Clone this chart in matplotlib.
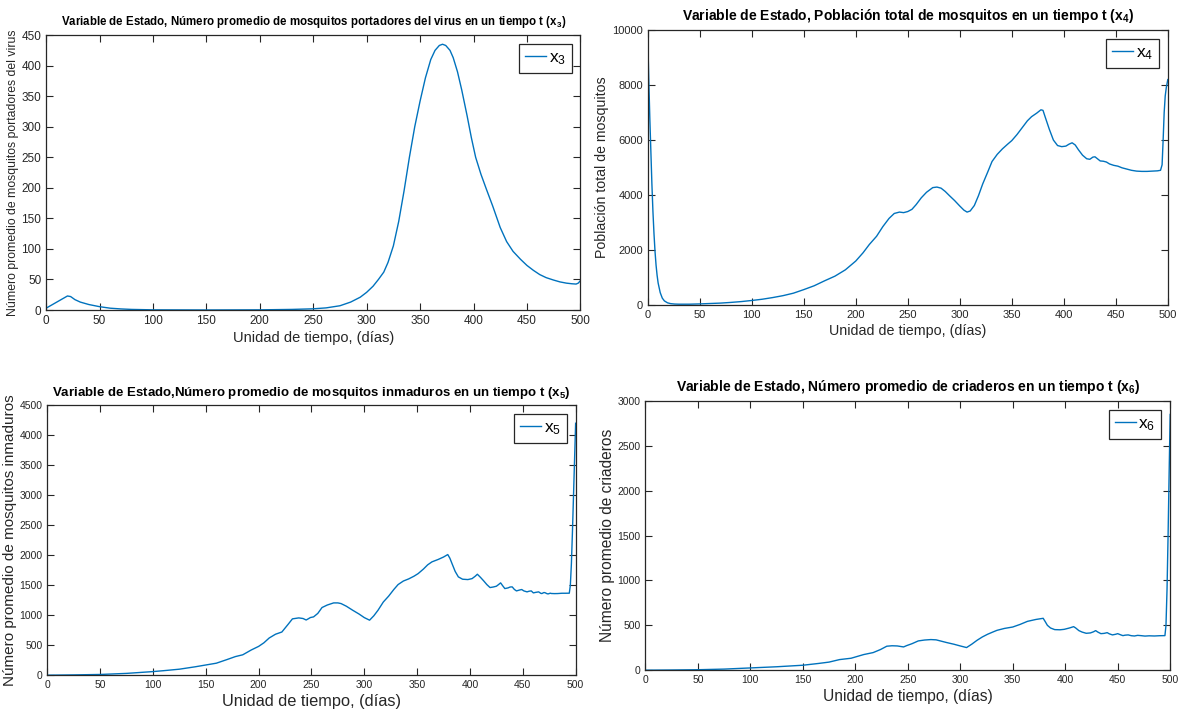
import numpy as np
import matplotlib
matplotlib.use('Agg')
import matplotlib.pyplot as plt

plt.rcParams['font.family'] = ['Liberation Sans', 'DejaVu Sans']
plt.rcParams['mathtext.default'] = 'regular'

# valores (t en dias)
t3 = [0, 3, 7, 12, 17, 20, 23, 27, 32, 40, 50, 60, 70, 80, 100, 150, 200, 230, 250, 262, 275, 285, 294,
      300, 306, 311, 316, 320, 325, 330, 335, 340, 345, 350, 355, 360, 364, 368, 371, 374, 378, 381, 385,
      389, 394, 398, 402, 407, 412, 418, 425, 431, 437, 444, 450, 456, 462, 468, 475, 481, 487, 492, 496,
      498, 500]
x3 = [3, 6, 10, 15, 20, 23, 22, 17, 13, 9, 5.5, 3, 1.8, 1, 0.3, 0.1, 0.3, 1, 2, 3.5, 7, 13, 21,
      29, 39, 50, 62, 78, 105, 145, 195, 250, 300, 342, 380, 410, 425, 433, 435, 433, 425, 413, 390,
      360, 318, 282, 250, 222, 198, 170, 135, 112, 96, 83, 73, 65, 58, 53, 49, 46, 44, 43, 42.5,
      44, 48]

t4 = [0, 0.5, 1, 1.5, 2, 3, 4, 5, 6, 7, 8, 9, 10, 12, 14, 16, 19, 22, 26, 30, 40, 50, 60, 70, 80, 90,
      100, 110, 120, 130, 140, 150, 160, 170, 180, 190, 200, 207, 213, 220, 226, 232, 237, 242, 246, 250,
      254, 258, 263, 268, 274, 278, 282, 286, 290, 295, 300, 304, 307, 310, 314, 318, 322, 327, 331, 336,
      341, 346, 350, 355, 360, 365, 369, 374, 378, 380, 382, 386, 390, 394, 398, 402, 405, 408, 411, 414,
      418, 422, 425, 428, 430, 432, 435, 438, 441, 444, 448, 452, 456, 460, 465, 470, 475, 480, 485, 490,
      493, 494.5, 495.5, 496.5, 497.5, 498.5, 500]
x4 = [10000, 9000, 8200, 7500, 6800, 5600, 4400, 3400, 2600, 1950, 1450, 1080, 800, 450, 250, 150, 80, 50,
      35, 30, 30, 40, 55, 70, 95, 125, 165, 210, 270, 340, 430, 560, 700, 880, 1050, 1280, 1600, 1900,
      2200, 2500, 2850, 3150, 3330, 3380, 3360, 3400, 3480, 3650, 3900, 4100, 4270, 4290, 4250, 4130,
      3980, 3800, 3600, 3450, 3380, 3420, 3620, 3980, 4400, 4850, 5220, 5480, 5680, 5850, 5980, 6200,
      6450, 6700, 6850, 6980, 7100, 7080, 6850, 6400, 6000, 5800, 5760, 5780, 5850, 5900, 5820, 5650,
      5450, 5320, 5300, 5380, 5390, 5330, 5240, 5230, 5200, 5130, 5080, 5050, 4990, 4950, 4900, 4870,
      4860, 4860, 4870, 4880, 4900, 5100, 6000, 7000, 7600, 7900, 8200]

t5 = [0, 25, 50, 75, 100, 110, 125, 140, 150, 160, 170, 178, 185, 193, 200, 205, 210, 216, 222, 228, 232,
      238, 242, 245, 247, 249, 252, 256, 260, 265, 271, 275, 278, 283, 289, 295, 300, 305, 309, 313, 318,
      323, 328, 332, 337, 342, 347, 351, 356, 360, 364, 370, 375, 379, 381, 383, 386, 389, 393, 398, 402,
      405, 407, 410, 413, 416, 419, 422, 425, 427, 429, 431, 433, 436, 438, 440, 442, 444, 447, 449, 451,
      454, 456, 458, 460, 462, 465, 467, 468, 470, 471, 473, 474, 476, 477, 480, 483, 487, 490, 494, 495,
      496, 497, 498, 499, 500]
x5 = [0, 5, 12, 30, 60, 75, 100, 140, 170, 200, 260, 310, 340, 420, 480, 540, 620, 683, 720, 850, 939,
      955, 945, 920, 940, 961, 972, 1030, 1128, 1170, 1205, 1205, 1194, 1150, 1083, 1020, 960, 917, 990,
      1083, 1220, 1317, 1430, 1511, 1570, 1605, 1650, 1694, 1770, 1840, 1889, 1930, 1970, 2011, 1950,
      1861, 1730, 1639, 1600, 1594, 1610, 1650, 1683, 1630, 1572, 1510, 1461, 1470, 1483, 1510, 1539,
      1490, 1444, 1455, 1470, 1472, 1430, 1405, 1420, 1428, 1405, 1389, 1400, 1405, 1372, 1380, 1389,
      1365, 1361, 1378, 1375, 1358, 1355, 1367, 1362, 1360, 1361, 1366, 1366, 1367, 1500, 1861, 2400,
      3000, 3600, 4200]

t6 = [0, 25, 50, 75, 100, 125, 150, 165, 175, 185, 196, 208, 217, 224, 230, 235, 240, 246, 249, 254, 260,
      266, 272, 277, 281, 287, 294, 300, 306, 311, 316, 321, 326, 331, 335, 342, 350, 357, 364, 372, 379,
      381, 383, 386, 390, 395, 399, 404, 408, 410, 413, 416, 420, 424, 427, 429, 431, 434, 437, 440, 442,
      445, 448, 450, 453, 455, 457, 460, 463, 466, 469, 472, 476, 480, 485, 490, 495, 496, 497, 498, 499,
      500]
x6 = [0, 2, 5, 12, 25, 38, 55, 75, 90, 118, 133, 174, 196, 230, 267, 272, 270, 259, 274, 295, 326,
      336, 341, 338, 326, 308, 289, 270, 252, 290, 333, 370, 400, 425, 444, 465, 481, 510, 544, 565, 578,
      540, 500, 470, 452, 450, 455, 470, 485, 470, 441, 425, 411, 415, 428, 441, 425, 407, 410, 418, 405,
      393, 400, 407, 393, 385, 390, 393, 384, 381, 388, 385, 380, 383, 381, 384, 385, 500, 900, 1500, 2200,
      2850]

xlabel = 'Unidad de tiempo, (días)'
azul = '#0072BD'
gris = '#262626'

fig = plt.figure(figsize=(11.82, 7.16), dpi=100)

# posicion, datos, ymax, paso, leyenda, titulo, ylabel, tamanos (titulo, ylabel, xlabel, ticks)
paneles = [
    ([0.039, 0.567, 0.452, 0.384], t3, x3, 450, 50, 'x$_3$',
     'Variable de Estado, Número promedio de mosquitos portadores del virus en un tiempo t (x$_3$)',
     'Número promedio de mosquitos portadores del virus', 8.3, 8.8, 10.5, 8.5),
    ([0.548, 0.574, 0.440, 0.384], t4, x4, 10000, 2000, 'x$_4$',
     'Variable de Estado, Población total de mosquitos en un tiempo t (x$_4$)',
     'Población total de mosquitos', 10, 10.2, 10.3, 8),
    ([0.040, 0.057, 0.447, 0.377], t5, x5, 4500, 500, 'x$_5$',
     'Variable de Estado,Número promedio de mosquitos inmaduros en un tiempo t (x$_5$)',
     'Número promedio de mosquitos inmaduros', 9.5, 11, 11.8, 7.5),
    ([0.546, 0.064, 0.444, 0.376], t6, x6, 3000, 500, 'x$_6$',
     'Variable de Estado, Número promedio de criaderos en un tiempo t (x$_6$)',
     'Número promedio de criaderos', 10, 11.2, 11.2, 7.5),
]

for pos, t, x, ymax, ystep, lab, titulo, ylab, fs_t, fs_y, fs_x, fs_tick in paneles:
    ax = fig.add_axes(pos)
    ax.plot(t, x, color=azul, linewidth=1.0, label=lab)
    ax.set_xlim(0, 500)
    ax.set_ylim(0, ymax)
    ax.set_xticks(np.arange(0, 501, 50))
    ax.set_yticks(np.arange(0, ymax + 1, ystep))
    ax.tick_params(direction='in', top=True, right=True, length=5, width=0.8,
                   labelsize=fs_tick, colors=gris)
    for s in ax.spines.values():
        s.set_color(gris)
        s.set_linewidth(0.9)
    ax.set_title(titulo, fontsize=fs_t, fontweight='bold', pad=7)
    ax.set_ylabel(ylab, fontsize=fs_y, color=gris, labelpad=2)
    ax.set_xlabel(xlabel, fontsize=fs_x, color=gris, labelpad=3)
    leg = ax.legend(loc='upper right', fancybox=False, framealpha=1, edgecolor=gris,
                    handlelength=1.2, handletextpad=0.15, borderpad=0.35, borderaxespad=0.5,
                    fontsize=12.5)
    leg.get_frame().set_linewidth(0.9)

plt.savefig('out.png', dpi=100)
